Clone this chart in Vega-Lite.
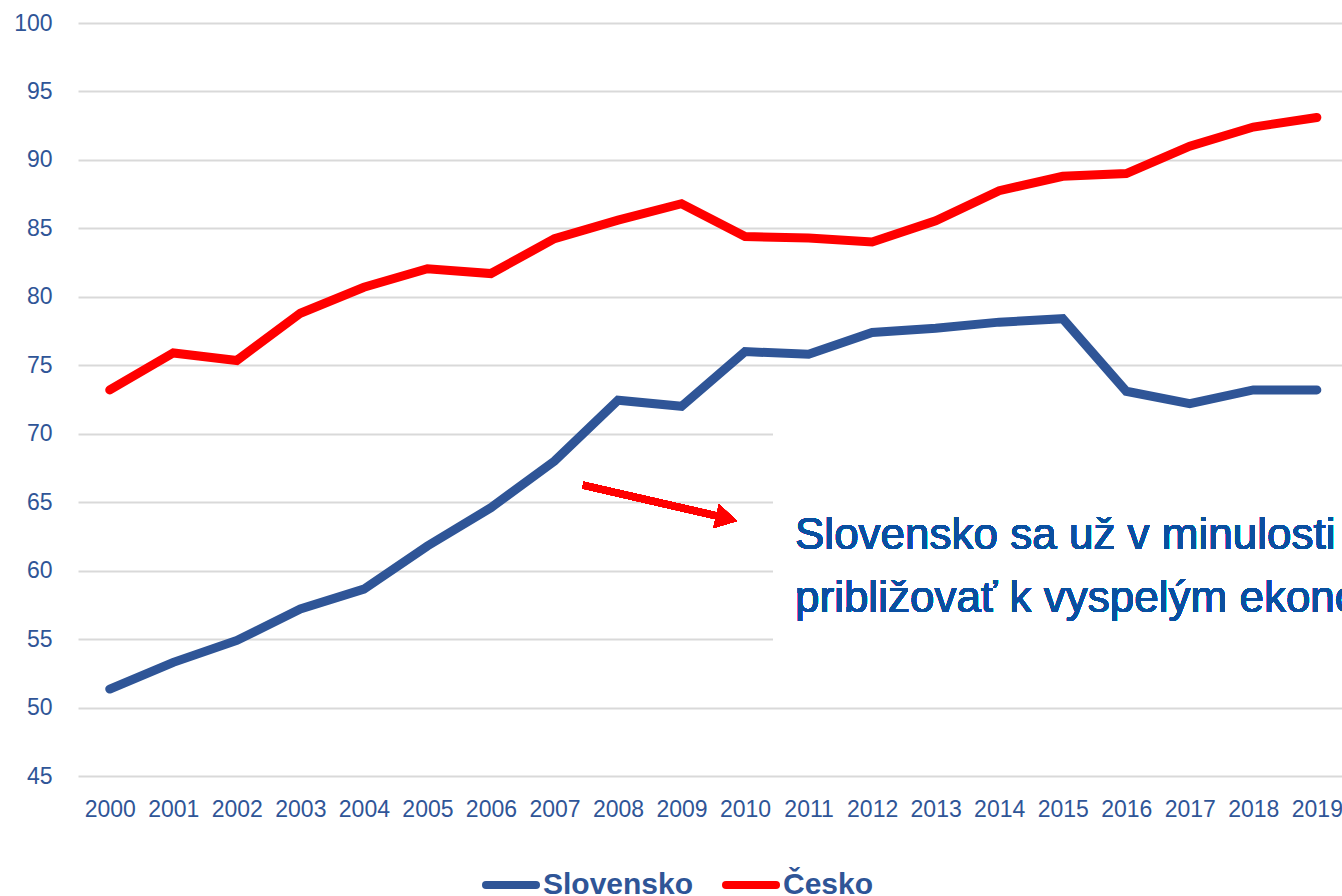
{
  "$schema": "https://vega.github.io/schema/vega-lite/v6.json",
  "width": 1264,
  "height": 753,
  "autosize": {"type": "none"},
  "padding": {"left": 78, "top": 23, "right": 0, "bottom": 120},
  "background": "white",
  "config": {
    "view": {"stroke": null},
    "font": "Liberation Sans, Arial, sans-serif",
    "axis": {
      "labelFont": "Liberation Sans, Arial, sans-serif",
      "labelFontSize": 23,
      "labelColor": "#2F5597",
      "domain": false,
      "ticks": false,
      "tickSize": 0,
      "gridColor": "#D9D9D9",
      "gridWidth": 2,
      "gridOpacity": 1,
      "title": null
    }
  },
  "data": {
    "values": [
      {"year": 2000, "country": "Slovensko", "value": 51.35},
      {"year": 2001, "country": "Slovensko", "value": 53.3},
      {"year": 2002, "country": "Slovensko", "value": 54.9},
      {"year": 2003, "country": "Slovensko", "value": 57.2},
      {"year": 2004, "country": "Slovensko", "value": 58.65},
      {"year": 2005, "country": "Slovensko", "value": 61.8},
      {"year": 2006, "country": "Slovensko", "value": 64.6},
      {"year": 2007, "country": "Slovensko", "value": 68.0},
      {"year": 2008, "country": "Slovensko", "value": 72.45},
      {"year": 2009, "country": "Slovensko", "value": 72.0},
      {"year": 2010, "country": "Slovensko", "value": 76.0},
      {"year": 2011, "country": "Slovensko", "value": 75.8},
      {"year": 2012, "country": "Slovensko", "value": 77.4},
      {"year": 2013, "country": "Slovensko", "value": 77.7},
      {"year": 2014, "country": "Slovensko", "value": 78.15},
      {"year": 2015, "country": "Slovensko", "value": 78.4},
      {"year": 2016, "country": "Slovensko", "value": 73.1},
      {"year": 2017, "country": "Slovensko", "value": 72.2},
      {"year": 2018, "country": "Slovensko", "value": 73.2},
      {"year": 2019, "country": "Slovensko", "value": 73.2},
      {"year": 2000, "country": "Česko", "value": 73.2},
      {"year": 2001, "country": "Česko", "value": 75.9},
      {"year": 2002, "country": "Česko", "value": 75.35},
      {"year": 2003, "country": "Česko", "value": 78.8},
      {"year": 2004, "country": "Česko", "value": 80.7},
      {"year": 2005, "country": "Česko", "value": 82.05},
      {"year": 2006, "country": "Česko", "value": 81.7},
      {"year": 2007, "country": "Česko", "value": 84.25},
      {"year": 2008, "country": "Česko", "value": 85.6},
      {"year": 2009, "country": "Česko", "value": 86.8},
      {"year": 2010, "country": "Česko", "value": 84.4},
      {"year": 2011, "country": "Česko", "value": 84.3},
      {"year": 2012, "country": "Česko", "value": 84.0},
      {"year": 2013, "country": "Česko", "value": 85.55},
      {"year": 2014, "country": "Česko", "value": 87.75},
      {"year": 2015, "country": "Česko", "value": 88.8},
      {"year": 2016, "country": "Česko", "value": 89.0},
      {"year": 2017, "country": "Česko", "value": 91.0},
      {"year": 2018, "country": "Česko", "value": 92.4},
      {"year": 2019, "country": "Česko", "value": 93.1}
    ]
  },
  "layer": [
    {
      "mark": {"type": "line", "strokeWidth": 9, "strokeCap": "round", "strokeJoin": "miter"},
      "encoding": {
        "x": {
          "field": "year", "type": "quantitative", "title": null,
          "scale": {"domain": [1999.5, 2019.396], "nice": false, "zero": false},
          "axis": {
            "values": [2000, 2001, 2002, 2003, 2004, 2005, 2006, 2007, 2008, 2009, 2010, 2011, 2012, 2013, 2014, 2015, 2016, 2017, 2018, 2019],
            "format": "d", "grid": false, "labelPadding": 22, "labelFlush": false, "labelOverlap": false, "labelBound": false
          }
        },
        "y": {
          "field": "value", "type": "quantitative", "title": null,
          "scale": {"domain": [45, 100], "nice": false, "zero": false},
          "axis": {
            "values": [45, 50, 55, 60, 65, 70, 75, 80, 85, 90, 95, 100],
            "labelPadding": 26, "grid": true
          }
        },
        "color": {
          "field": "country", "type": "nominal", "title": null,
          "scale": {"domain": ["Slovensko", "Česko"], "range": ["#2F5597", "#FF0000"]},
          "legend": {
            "orient": "none", "legendX": 404, "legendY": 833, "direction": "horizontal",
            "symbolType": "stroke", "symbolSize": 2500, "symbolStrokeWidth": 8,
            "labelFont": "Liberation Sans, Arial, sans-serif",
            "labelFontSize": 30, "labelFontWeight": "bold", "labelColor": "#2F5597",
            "labelOffset": 3, "columnPadding": 16, "padding": 0,
            "labelLimit": 400,
            "encode": {"symbols": {"update": {"strokeCap": {"value": "round"}}}}
          }
        }
      }
    },
    {
      "mark": {"type": "rect", "fill": "white", "clip": true},
      "encoding": {
        "x": {"datum": 2010.44, "type": "quantitative", "title": null},
        "x2": {"datum": 2019.6},
        "y": {"datum": 71.3, "type": "quantitative", "title": null},
        "y2": {"datum": 52.0}
      }
    },
    {
      "mark": {"type": "rule", "color": "#FF0000", "strokeWidth": 7},
      "encoding": {
        "x": {"datum": 2007.449, "type": "quantitative", "title": null},
        "x2": {"datum": 2009.57},
        "y": {"datum": 66.25, "type": "quantitative", "title": null},
        "y2": {"datum": 63.98}
      }
    },
    {
      "mark": {"type": "point", "shape": "triangle-right", "filled": true, "color": "#FF0000", "opacity": 1, "size": 600, "angle": 13.3},
      "encoding": {
        "x": {"datum": 2009.708, "type": "quantitative", "title": null},
        "y": {"datum": 63.8, "type": "quantitative", "title": null}
      }
    },
    {
      "mark": {"type": "text", "align": "left", "baseline": "alphabetic", "fontSize": 44, "lineHeight": 62.4, "color": "#0A4FA0", "clip": true, "font": "Liberation Sans, Arial, sans-serif"},
      "encoding": {
        "x": {"datum": 2010.786, "type": "quantitative", "title": null},
        "y": {"datum": 61.55, "type": "quantitative", "title": null},
        "text": {"value": ["Slovensko sa už v minulosti", "približovať k vyspelým ekonomikám"]}
      }
    }
  ]
}
